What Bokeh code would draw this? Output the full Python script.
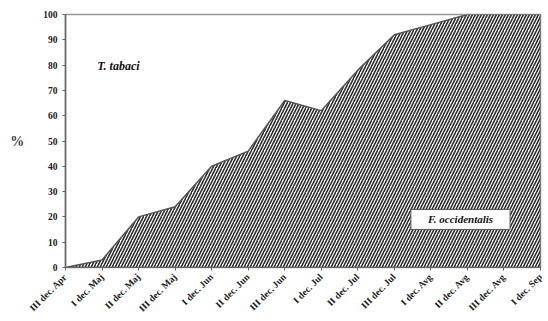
from bokeh.plotting import figure
from bokeh.models import Range1d, FixedTicker, Label
from bokeh.embed import file_html
from bokeh.resources import INLINE
import math

# Ten-day periods (dekads) and cumulative share (%)
periods = ["III dec. Apr", "I dec. Maj", "II dec. Maj", "III dec. Maj",
           "I dec. Jun", "II dec. Jun", "III dec. Jun", "I dec. Jul",
           "II dec. Jul", "III dec. Jul", "I dec. Avg", "II dec. Avg",
           "III dec. Avg", "I dec. Sep"]
share = [0, 3, 20, 24, 40, 46, 66, 62, 78, 92, 96, 100, 100, 100]

xs = list(range(len(periods)))

p = figure(width=548, height=321, output_backend="svg", toolbar_location=None,
           x_range=Range1d(0, len(periods) - 1), y_range=Range1d(0, 100),
           min_border_left=65, min_border_right=8, min_border_top=14,
           min_border_bottom=54)
p.background_fill_color = "white"
p.border_fill_color = "white"
p.outline_line_color = "#999999"
p.outline_line_width = 1.5
p.xgrid.visible = False
p.ygrid.visible = False

# Hatched area under the curve
p.patch(xs + [xs[-1], xs[0]], share + [0, 0],
        fill_color="white", hatch_pattern="/", hatch_color="#2b2b2b",
        hatch_scale=6, hatch_weight=1.6,
        line_color="#555555", line_width=1.5)

serif = "Liberation Serif"

p.xaxis.ticker = FixedTicker(ticks=xs)
p.xaxis.major_label_overrides = {i: s for i, s in enumerate(periods)}
p.xaxis.major_label_orientation = math.pi / 4
p.xaxis.major_label_text_font = serif
p.xaxis.major_label_text_font_style = "bold"
p.xaxis.major_label_text_font_size = "9.5px"
p.xaxis.major_label_text_color = "#222222"
p.xaxis.major_label_standoff = 5
p.xaxis.minor_tick_line_color = None
p.xaxis.major_tick_in = 0
p.xaxis.major_tick_out = 3
p.xaxis.axis_line_color = "#666666"
p.xaxis.major_tick_line_color = "#666666"

p.yaxis.ticker = FixedTicker(ticks=list(range(0, 101, 10)))
p.yaxis.major_label_text_font = serif
p.yaxis.major_label_text_font_style = "bold"
p.yaxis.major_label_text_font_size = "9.5px"
p.yaxis.major_label_text_color = "#222222"
p.yaxis.minor_tick_line_color = None
p.yaxis.major_tick_in = 0
p.yaxis.major_tick_out = 3
p.yaxis.axis_line_color = "#666666"
p.yaxis.axis_line_width = 1.5
p.yaxis.major_tick_line_color = "#666666"
p.yaxis.axis_label = "%"
p.yaxis.axis_label_orientation = "horizontal"
p.yaxis.axis_label_text_font = serif
p.yaxis.axis_label_text_font_style = "bold"
p.yaxis.axis_label_text_font_size = "14px"
p.yaxis.axis_label_standoff = 16

p.add_layout(Label(x=1.45, y=79.5, text="T. tabaci", text_font=serif,
                   text_font_style="bold italic", text_font_size="12px",
                   text_align="center", text_baseline="middle",
                   text_color="#111111"))
p.add_layout(Label(x=10.81, y=19.0, text="F. occidentalis", text_font=serif,
                   text_font_style="bold italic", text_font_size="11px",
                   text_align="center", text_baseline="middle",
                   text_color="#111111",
                   background_fill_color="white",
                   border_line_color="#555555", border_line_width=1,
                   padding=dict(x=17, y=4)))

open("out.html", "w").write(file_html(p, INLINE))
